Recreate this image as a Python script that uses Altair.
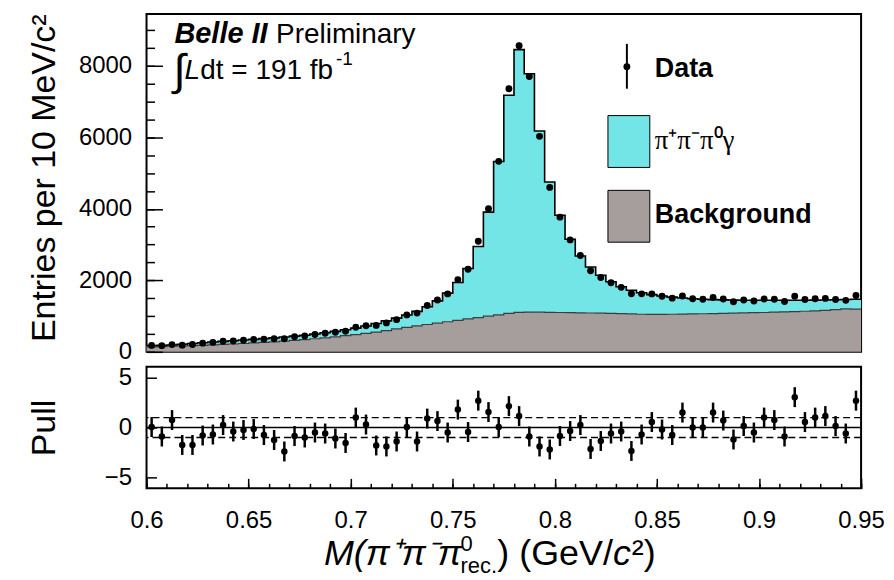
import altair as alt
import pandas as pd

# ---------------- data ----------------
x_lo, x_hi, bin_w = 0.6, 0.95, 0.005

data_counts = [179, 172, 202, 186, 205, 242, 263, 296, 303, 323,
               345, 354, 365, 366, 420, 443, 486, 518, 546, 577,
               688, 728, 739, 809, 899, 1032, 1083, 1294, 1450, 1620,
               2019, 2308, 3091, 4004, 5327, 7358, 8559, 7699, 6027, 4598,
               3767, 3130, 2693, 2265, 2078, 1933, 1803, 1625, 1621, 1619,
               1552, 1501, 1563, 1485, 1470, 1517, 1479, 1400, 1448, 1421,
               1478, 1468, 1406, 1556, 1463, 1483, 1494, 1461, 1439, 1574]

background = [140, 147, 155, 163, 172, 182, 193, 205, 218, 232,
              247, 263, 280, 298, 318, 340, 365, 392, 420, 450,
              482, 516, 552, 594, 640, 685, 724, 763, 802, 840,
              880, 920, 958, 996, 1035, 1073, 1105, 1110, 1108, 1105,
              1100, 1095, 1090, 1085, 1080, 1075, 1070, 1062, 1050, 1048,
              1045, 1050, 1055, 1060, 1065, 1070, 1075, 1080, 1090, 1095,
              1100, 1110, 1115, 1125, 1135, 1145, 1160, 1180, 1200, 1195]

signal = [38, 37, 37, 49, 60, 73, 82, 87, 92, 96,
          101, 105, 110, 116, 120, 125, 132, 140, 152, 165,
          180, 204, 238, 271, 302, 345, 406, 499, 623, 800,
          1060, 1410, 1986, 2911, 4288, 6103, 7348, 6668, 5068, 3645,
          2720, 2055, 1590, 1285, 1060, 885, 750, 658, 600, 552,
          515, 480, 450, 425, 405, 390, 377, 366, 352, 345,
          340, 330, 325, 315, 307, 300, 290, 275, 262, 275]

pulls = [0.05, -0.9, 0.75, -1.75, -1.75, -0.8, -0.7, 0.25, -0.4, -0.25,
         -0.15, -0.75, -1.25, -2.4, -0.85, -1.0, -0.5, -0.6, -1.1, -1.55,
         1.0, 0.3, -1.8, -1.9, -1.4, 0.05, -1.4, 0.9, 0.65, -0.5,
         1.8, -0.45, 2.7, 1.55, 0.05, 2.15, 1.15, -0.9, -1.9, -2.2,
         -0.85, -0.35, 0.25, -2.15, -1.35, -0.6, -0.4, -2.35, -0.7, 0.55,
         -0.2, -0.75, 1.5, 0.0, 0.0, 1.5, 0.7, -1.2, 0.15, -0.5,
         1.0, 0.75, -0.9, 3.05, 0.55, 1.0, 1.15, 0.15, -0.6, 2.7]

x_major = [0.6, 0.65, 0.7, 0.75, 0.8, 0.85, 0.9, 0.95]
x_minor = [round(x_lo + 0.01 * i, 2) for i in range(36)]
y_major = [0, 2000, 4000, 6000, 8000]
y_minor = [500 * i for i in range(19)]
pull_major = [-5, 0, 5]
ref_solid = [0]
ref_dashed = [-1, 1]

# ---------------- tables ----------------
n = len(data_counts)
edges = [round(x_lo + i * bin_w, 4) for i in range(n + 1)]
centers = [round(x_lo + (i + 0.5) * bin_w, 4) for i in range(n)]
total = [b + s for b, s in zip(background, signal)]

hist = pd.DataFrame({"x": edges,
                     "bg": background + [background[-1]],
                     "tot": total + [total[-1]]})
pts = pd.DataFrame({"x": centers, "n": data_counts,
                    "lo": [v - v ** 0.5 for v in data_counts],
                    "hi": [v + v ** 0.5 for v in data_counts],
                    "pull": pulls,
                    "plo": [p - 1 for p in pulls],
                    "phi": [p + 1 for p in pulls]})
one = pd.DataFrame({"k": [0]})

# ---------------- style ----------------
FONT = "Liberation Sans"
CYAN = "#74e5e6"
GRAY = "#a69e9c"
W, H1, H2 = 717, 339, 122
LAB = 24

xs_top = alt.Scale(domain=[x_lo, x_hi], nice=False, zero=False)
ys_top = alt.Scale(domain=[0, 9450], nice=False)
xs_bot = alt.Scale(domain=[x_lo, x_hi], nice=False, zero=False)
ys_bot = alt.Scale(domain=[-6.1, 6.1], nice=False)


def tick_axis(orient, values, size):
    return alt.Axis(orient=orient, values=values, labels=False, ticks=True,
                    tickSize=size, offset=-size, tickColor="black",
                    tickWidth=1.5, domain=False, grid=False, title=None,
                    zindex=2)


def text(txt, x, y, size, **kw):
    return alt.Chart(one).mark_text(text=txt, font=kw.pop("font", FONT),
                                    fontSize=size, align=kw.pop("align", "left"),
                                    baseline=kw.pop("baseline", "alphabetic"),
                                    color="black", **kw).encode(
        x=alt.value(x), y=alt.value(y))


# ---------------- top panel ----------------
h = alt.Chart(hist)
bg_area = h.mark_area(interpolate="step-after", color=GRAY, opacity=1).encode(
    x=alt.X("x:Q", scale=xs_top, axis=None),
    y=alt.Y("bg:Q", scale=ys_top, stack=None,
            axis=alt.Axis(orient="left", values=y_major, format="d",
                          ticks=False, domain=False, grid=False,
                          labelFont=FONT, labelFontSize=LAB, labelPadding=15,
                          title="Entries per 10 MeV/c²", titleFont=FONT,
                          titleFontSize=34, titleFontWeight="normal",
                          titlePadding=17, titleAnchor="end")),
)
sig_area = h.mark_area(interpolate="step-after", color=CYAN, opacity=1).encode(
    x=alt.X("x:Q", scale=xs_top, axis=None),
    y=alt.Y("tot:Q", scale=ys_top, stack=None,
            axis=tick_axis("left", y_major, 16)),
    y2="bg:Q",
)
bg_line = h.mark_line(interpolate="step-after", color="#3c3c3c", strokeWidth=1.2).encode(
    x=alt.X("x:Q", scale=xs_top, axis=None),
    y=alt.Y("bg:Q", scale=ys_top, axis=None),
)
tot_line = h.mark_line(interpolate="step-after", color="black", strokeWidth=1.6).encode(
    x=alt.X("x:Q", scale=xs_top, axis=None),
    y=alt.Y("tot:Q", scale=ys_top, axis=tick_axis("left", y_minor, 8)),
)
p = alt.Chart(pts)
d_err = p.mark_rule(color="black", strokeWidth=1.5).encode(
    x=alt.X("x:Q", scale=xs_top, axis=None),
    y=alt.Y("lo:Q", scale=ys_top, axis=None), y2="hi:Q")
d_pts = p.mark_circle(color="black", size=48, opacity=1).encode(
    x=alt.X("x:Q", scale=xs_top, axis=None),
    y=alt.Y("n:Q", scale=ys_top, axis=None))

# labels / legend (pixel placement of annotations)
t_belle = text("Belle II", 28, 29, 29, fontStyle="italic", fontWeight="bold")
t_prel = text("Preliminary", 130, 29, 28)
t_int = text("∫", 27, 71, 44)
t_L = text("L", 38, 65, 28, fontStyle="italic")
t_dt = text("dt = 191 fb", 54, 65, 28)
t_inv = text("-1", 190, 51, 19)

leg_bar = alt.Chart(one).mark_rule(color="black", strokeWidth=2).encode(
    x=alt.value(482), y=alt.value(30), y2=alt.value(75))
leg_dot = alt.Chart(one).mark_circle(color="black", size=48, opacity=1).encode(
    x=alt.value(482), y=alt.value(53))
leg_data = text("Data", 510, 55, 27, fontWeight="bold", baseline="middle")
leg_box1 = alt.Chart(one).mark_rect(fill=CYAN, stroke="black", strokeWidth=1).encode(
    x=alt.value(463), x2=alt.value(505), y=alt.value(102), y2=alt.value(154))
leg_sig = text("π⁺π⁻π⁰γ", 510, 128, 27, font="Liberation Serif", baseline="middle")
leg_box2 = alt.Chart(one).mark_rect(fill=GRAY, stroke="black", strokeWidth=1).encode(
    x=alt.value(463), x2=alt.value(505), y=alt.value(177), y2=alt.value(229))
leg_bkg = text("Background", 510, 202, 27, fontWeight="bold", baseline="middle")

top = alt.layer(
    bg_area, sig_area, bg_line, tot_line, d_err, d_pts,
    t_belle, t_prel, t_int, t_L, t_dt, t_inv,
    leg_bar, leg_dot, leg_data, leg_box1, leg_sig, leg_box2, leg_bkg,
).resolve_axis(y="independent").properties(width=W, height=H1)

# ---------------- pull panel ----------------
r0 = alt.Chart(pd.DataFrame({"y": ref_solid})).mark_rule(color="black", strokeWidth=1.5).encode(
    y=alt.Y("y:Q", scale=ys_bot, axis=None))
r1 = alt.Chart(pd.DataFrame({"y": ref_dashed})).mark_rule(
    color="black", strokeWidth=1.3, strokeDash=[7, 4]).encode(
    y=alt.Y("y:Q", scale=ys_bot, axis=None))
p_err = p.mark_rule(color="black", strokeWidth=2.5).encode(
    x=alt.X("x:Q", scale=xs_bot, axis=tick_axis("bottom", x_major, 10)),
    y=alt.Y("plo:Q", scale=ys_bot, axis=tick_axis("left", pull_major, 10)),
    y2="phi:Q")
p_pts = p.mark_circle(color="black", size=42, opacity=1).encode(
    x=alt.X("x:Q", scale=xs_bot,
            axis=alt.Axis(orient="bottom", values=x_major, format="~g",
                          ticks=False, domain=False, grid=False,
                          labelFont=FONT, labelFontSize=LAB, labelPadding=20,
                          labelFlush=False, title=None)),
    y=alt.Y("pull:Q", scale=ys_bot,
            axis=alt.Axis(orient="left", values=pull_major, format="d",
                          ticks=False, domain=False, grid=False,
                          labelFont=FONT, labelFontSize=LAB, labelPadding=15,
                          title="Pull", titleFont=FONT, titleFontSize=34,
                          titleFontWeight="normal", titlePadding=43)))
p_minor = p.mark_circle(opacity=0).encode(
    x=alt.X("x:Q", scale=xs_bot, axis=tick_axis("bottom", x_minor, 5)),
    y=alt.Y("pull:Q", scale=ys_bot, axis=None))

# x-axis title built from pieces (sub/superscripts)
XT = 36
xt_a = text("M(π⁺π⁻π", 178, 199, XT, fontStyle="italic")
xt_sup = text("0", 315, 185, 22)
xt_sub = text("rec.", 315, 207, 22)
xt_b = text(") (GeV/", 352, 199, XT)
xt_c = text("c", 468, 199, XT, fontStyle="italic")
xt_d = text("²)", 487, 199, XT)

bottom = alt.layer(
    r0, r1, p_err, p_pts, p_minor, xt_a, xt_sup, xt_sub, xt_b, xt_c, xt_d,
).resolve_axis(x="independent", y="independent").properties(width=W, height=H2)

chart = alt.vconcat(top, bottom, spacing=15, bounds="flush").properties(
    padding={"left": 18, "top": 3, "right": 0, "bottom": 0}
).configure(font=FONT).configure_view(
    stroke="black", strokeWidth=2
).configure_axis(
    grid=False, domain=False, labelColor="black", titleColor="black"
)

chart.save("out.html", embed_options={"renderer": "svg", "actions": False})
